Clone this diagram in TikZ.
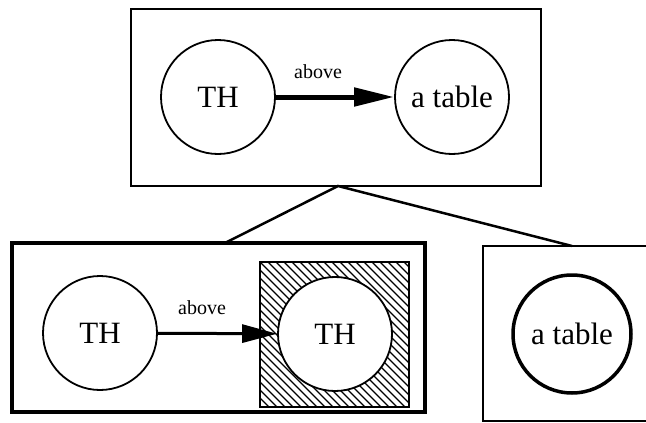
\documentclass[tikz,border=0pt]{standalone}
\usepackage{fontspec}
\setmainfont{Liberation Serif}
\usetikzlibrary{arrows.meta}
\begin{document}
\begin{tikzpicture}[x=1pt,y=-1pt,
  frame/.style={draw,rectangle,inner sep=0pt},
  blob/.style={draw,circle,inner sep=0pt,minimum size=114pt,line width=1.8pt,font=\fontsize{31}{31}\selectfont,fill=white},
  lbl/.style={font=\fontsize{20}{20}\selectfont,inner sep=0pt}
]
\useasboundingbox (0,0) rectangle (646,423);
\clip (0,0) rectangle (646,423);
% top box
\node[frame,line width=1.8pt,minimum width=410pt,minimum height=177pt] (top) at (336,97.5) {};
\node[blob] (th1) at (218,97) {TH};
\node[blob] (tab1) at (452,97) {a table};
\draw[line width=5pt,-{Triangle[length=40pt,width=18pt]}] (th1) -- (tab1);
\node[lbl] (ab1) at (318,72) {above};
% bottom-left box
\node[frame,line width=3.5pt,minimum width=413pt,minimum height=169pt] (bl) at (218.5,327.5) {};
% hatched square
\node[frame,line width=2.5pt,minimum width=149pt,minimum height=145pt] (hs) at (334.5,334.5) {};
\begin{scope}
  \clip (260,262) rectangle (409,407);
  \foreach \k in {-160,-152,...,160} {
    \draw[line width=1.3pt] (260+\k,262) -- (260+\k+150,412);
  }
\end{scope}
\draw[line width=2.5pt] (260,262) rectangle (409,407);
\node[blob] (th2) at (100,333) {TH};
\node[blob] (th3) at (335,334) {TH};
\draw[line width=3pt,-{Triangle[length=35pt,width=18pt]}] (th2) -- (th3);
\node[lbl] (ab2) at (202,308) {above};
% right box
\node[frame,line width=1.8pt,minimum width=220pt,minimum height=175pt] (br) at (593,333.5) {};
\node[blob,line width=3.5pt,minimum size=118pt] (tab2) at (572,334) {a table};
% connectors
\coordinate (apex) at (338,186);
\coordinate (lend) at (225,243);
\coordinate (rend) at (572,246);
\draw[line width=2.5pt] (lend) -- (apex) -- (rend);
\end{tikzpicture}
\end{document}
